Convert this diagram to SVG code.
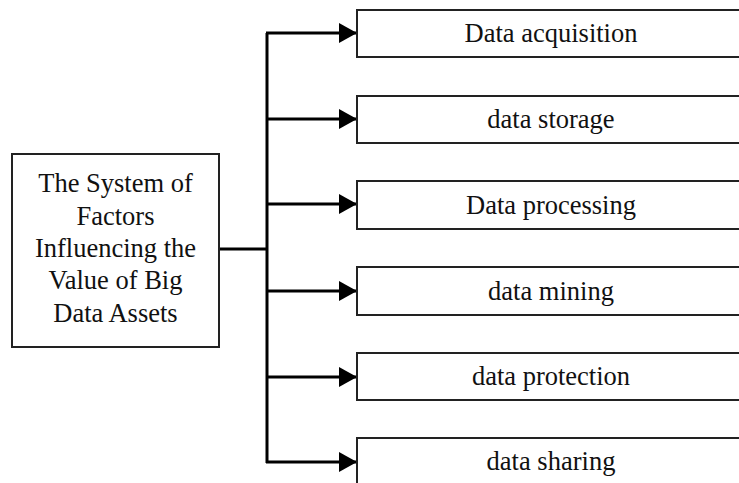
<svg xmlns="http://www.w3.org/2000/svg" width="739" height="483" viewBox="0 0 739 483">
  <style>
    .box { fill: #ffffff; stroke: #222222; stroke-width: 2; }
    .label { font-family: "Liberation Serif", "Times New Roman", serif; font-size: 26.5px; fill: #111111; text-anchor: middle; }
    .wire { fill: none; stroke: #000000; stroke-width: 3; }
  </style>
  <defs>
    <marker id="arrow" viewBox="0 0 18 20" refX="18" refY="10" markerWidth="18" markerHeight="20" markerUnits="userSpaceOnUse" orient="auto">
      <path d="M0,0 L18,10 L0,20 Z" fill="#000000"/>
    </marker>
  </defs>
  <rect width="739" height="483" fill="#ffffff"/>

  <!-- connectors: root to trunk, trunk, and branches -->
  <g id="connectors">
    <path class="wire" d="M219,249 H267"/>
    <path class="wire" d="M267,33 V463"/>
    <path class="wire" d="M266,33 H357" marker-end="url(#arrow)"/>
    <path class="wire" d="M266,119 H357" marker-end="url(#arrow)"/>
    <path class="wire" d="M266,204 H357" marker-end="url(#arrow)"/>
    <path class="wire" d="M266,291 H357" marker-end="url(#arrow)"/>
    <path class="wire" d="M266,377 H357" marker-end="url(#arrow)"/>
    <path class="wire" d="M266,462 H357" marker-end="url(#arrow)"/>
  </g>

  <g id="root">
    <rect class="box" x="12" y="154" width="207" height="193"/>
    <text class="label" x="115.5" y="192">The System of</text>
    <text class="label" x="115.5" y="225">Factors</text>
    <text class="label" x="115.5" y="257">Influencing the</text>
    <text class="label" x="115.5" y="289">Value of Big</text>
    <text class="label" x="115.5" y="322">Data Assets</text>
  </g>

  <g id="acquisition">
    <rect class="box" x="357" y="10" width="400" height="47"/>
    <text class="label" x="551" y="42">Data acquisition</text>
  </g>
  <g id="storage">
    <rect class="box" x="357" y="96" width="400" height="47"/>
    <text class="label" x="551" y="128">data storage</text>
  </g>
  <g id="processing">
    <rect class="box" x="357" y="181" width="400" height="48"/>
    <text class="label" x="551" y="214">Data processing</text>
  </g>
  <g id="mining">
    <rect class="box" x="357" y="267" width="400" height="48"/>
    <text class="label" x="551" y="300">data mining</text>
  </g>
  <g id="protection">
    <rect class="box" x="357" y="353" width="400" height="47"/>
    <text class="label" x="551" y="385">data protection</text>
  </g>
  <g id="sharing">
    <rect class="box" x="357" y="438" width="400" height="60"/>
    <text class="label" x="551" y="470">data sharing</text>
  </g>
</svg>
